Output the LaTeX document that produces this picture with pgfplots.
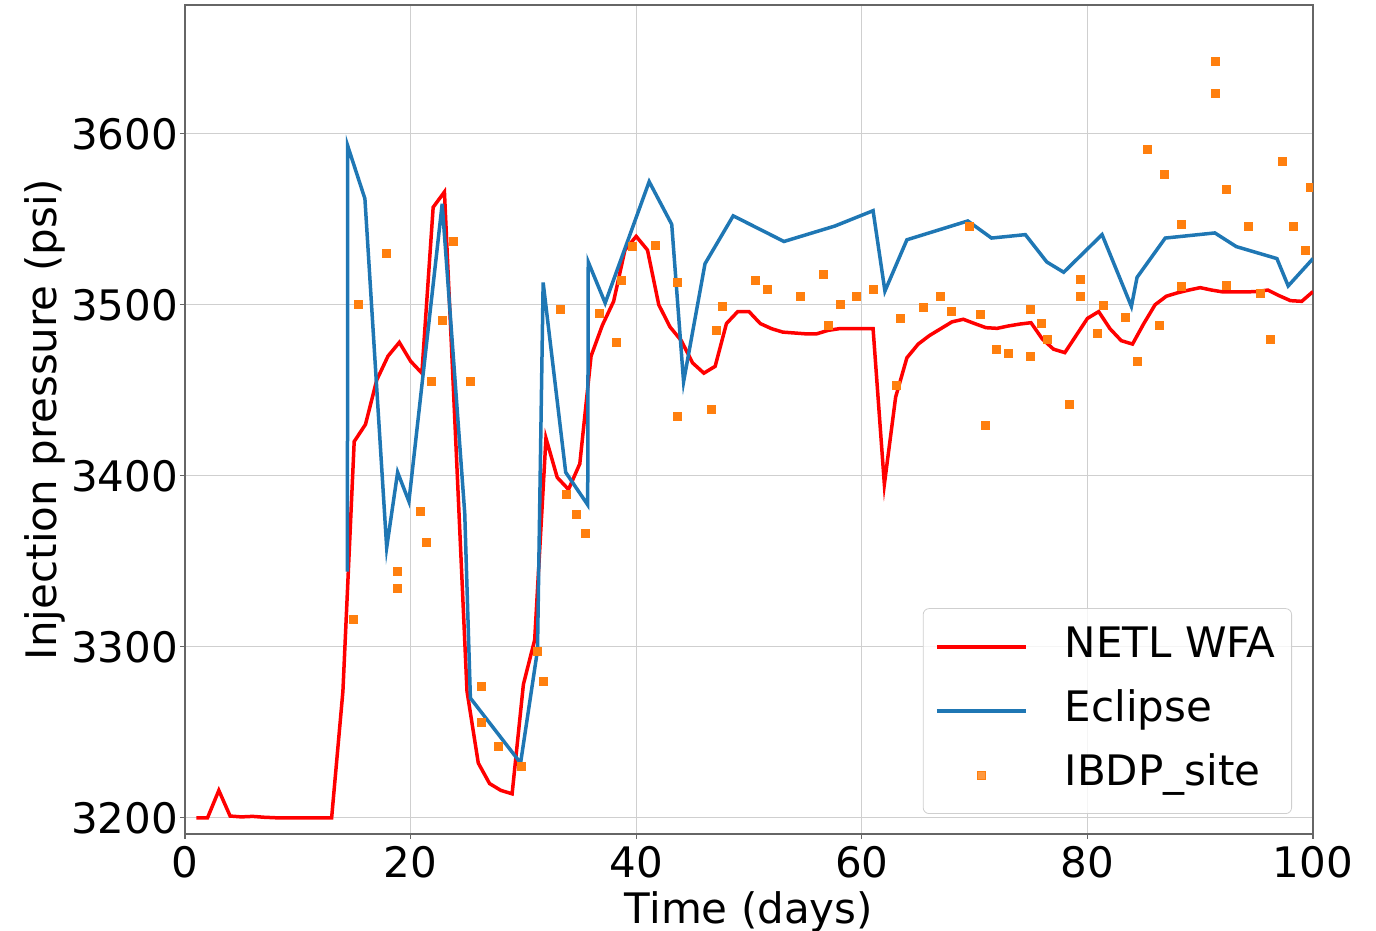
\documentclass[border=0pt]{standalone}
\usepackage{fontspec}
\setmainfont{DejaVu Sans}
\usepackage{pgfplots}
\pgfplotsset{compat=1.18}
\definecolor{netl}{rgb}{1,0,0}
\definecolor{ecl}{HTML}{1F77B4}
\definecolor{ibdp}{HTML}{FF7F0E}
\definecolor{spine}{gray}{0.4}
\definecolor{gridc}{HTML}{CFCFCF}
\newcommand{\bigf}{\fontsize{21}{25}\selectfont}
\pgfplotsset{
  linelegend/.style={legend image code/.code={\draw[##1] (0pt,0pt) -- (44.5pt,0pt); \path (61pt,0pt);}},
  marklegend/.style={legend image code/.code={\draw[##1] plot coordinates {(22.25pt,0pt)}; \path (0pt,0pt) (61pt,0pt);}},
}
\begin{document}
\begin{tikzpicture}
\begin{axis}[
  scale only axis, width=564pt, height=414.5pt,
  xmin=0, xmax=100, ymin=3190.5, ymax=3675.3,
  xtick={0,20,...,100}, ytick={3200,3300,...,3600},
  grid=major, major grid style={gridc, line width=0.6pt},
  axis line style={spine, line width=0.6pt},
  tick style={spine, line width=0.6pt},
  tick align=outside, major tick length=2.5pt, tick pos=left,
  /pgf/number format/assume math mode=true,
  /pgf/number format/1000 sep={},
  ticklabel style={font=\bigf},
  yticklabel style={xshift=2.5pt},
  label style={font=\bigf},
  ylabel shift=-4pt,
  xlabel={Time (days)}, ylabel={Injection pressure (psi)},
  clip marker paths=true,
  legend cell align=left,
  legend style={at={(1,0)}, anchor=south east, xshift=-10.5pt, yshift=10pt,
    draw=gridc, rounded corners=3pt, fill=white, fill opacity=0.8, text opacity=1,
    font=\bigf, inner xsep=6pt, inner ysep=7.5pt, row sep=8.5pt,
    nodes={text height=15pt, text depth=4.5pt, inner sep=2pt}},
]
\path (rel axis cs:0,0) coordinate (sw) (rel axis cs:1,1) coordinate (ne);

\addplot[netl, line width=1.75pt, linelegend] coordinates {
(1,3200)(2,3200)(3,3216)(4,3201)(5,3200.5)(6,3200.8)(7,3200.3)(8,3200)(9,3200)(10,3200)
(11,3200)(12,3200)(13,3200)(14,3274)(15,3420)(16,3430)(17,3456)(18,3470)(19,3478)(20,3467)
(21,3460)(22,3557)(23,3566)(24,3421)(25,3274)(26,3232)(27,3220)(28,3216)(29,3214)(30,3278)
(31,3304)(32,3422)(33,3399)(34,3392)(35,3407)(36,3470)(37,3488)(38,3502)(39,3532)(40,3540)
(41,3532)(42,3500)(43,3487)(44,3479)(45,3466)(46,3460)(47,3464)(48,3489)(49,3496)(50,3496)
(51,3489)(52,3486)(53,3484)(54,3483.5)(55,3483)(56,3483)(57,3485)(58,3486)(59,3486)(60,3486)
(61,3486)(62,3395)(63,3446)(64,3469)(65,3477)(66,3482)(67,3486)(68,3490)(69,3491.5)(70,3489)
(71,3486.6)(72,3486.2)(73,3487.6)(74,3488.7)(75,3489.5)(76,3480)(77,3474)(78,3472)(79,3482)(80,3492)
(81,3496)(82,3486)(83,3479)(84,3477)(85,3489)(86,3500)(87,3505)(88,3507)(89,3508.6)(90,3510)
(91,3508.6)(92,3507.5)(93,3507.5)(94,3507.5)(95,3507.7)(96,3508.6)(97,3505.3)(98,3502.4)(99,3502)(100,3507.7)
};
\addlegendentry{NETL WFA}

\addplot[ecl, line width=1.75pt, linelegend] coordinates {
(14.4,3344)(14.42,3593)(15.95,3562)(17.88,3358)(18.85,3402)(19.85,3385)(22.8,3559)(24.8,3378)
(25.3,3270)(29.75,3232)(31.25,3298)(31.75,3513)(33.75,3402)(35.7,3383)(35.75,3525)(37.25,3501)
(41.15,3572)(43.15,3547)(44.2,3455)(46.1,3524)(48.6,3552)(53.1,3537)(57.6,3546)(61.0,3555)
(62.05,3508)(64.0,3538)(69.4,3549)(71.5,3539)(74.5,3541)(76.4,3525)(77.9,3519)(81.3,3541)
(83.9,3499)(84.4,3516)(86.9,3539)(91.3,3542)(93.2,3534)(96.8,3527)(97.8,3511)(100,3527)
};
\addlegendentry{Eclipse}

\addplot[only marks, mark=square*, mark size=2pt, draw=ibdp, fill=ibdp, marklegend]
  coordinates {
(14.92,3316)(15.37,3500)(17.88,3530)(18.85,3344)(18.85,3334)(20.86,3379)(21.37,3361)(21.8,3455)
(22.84,3491)(23.79,3537)(25.27,3455)(26.3,3277)(26.3,3256)(27.78,3242)(29.79,3230)(31.27,3297)
(31.77,3280)(33.24,3497.5)(33.78,3389)(34.72,3377.5)(35.46,3366.5)(36.7,3495)(38.27,3478)(38.71,3514)
(39.69,3534)(41.72,3535)(43.68,3513)(43.68,3435)(46.63,3439)(47.13,3485)(47.64,3499)(50.6,3514)
(51.63,3509)(54.6,3505)(56.6,3518)(57.0,3488)(58.07,3500.4)(59.5,3505)(61.0,3509)(63.03,3453)
(63.45,3492)(65.5,3498.5)(67.0,3504.7)(67.97,3496.3)(69.5,3545.7)(70.48,3494.6)(70.98,3429.6)(71.96,3474)
(72.99,3471.6)(74.97,3497.5)(74.97,3469.6)(75.95,3489)(76.45,3480)(78.4,3442)(79.4,3515)(79.4,3504.7)
(80.88,3483)(81.4,3499.5)(83.4,3492.4)(84.43,3466.7)(85.35,3591)(86.38,3488)(86.8,3576.4)(88.3,3546.7)
(88.3,3511)(91.37,3642.3)(91.37,3623.8)(92.3,3567.2)(92.3,3511.6)(94.26,3545.7)(95.3,3506.7)(96.25,3479.8)
(97.28,3583.8)(98.26,3545.7)(99.3,3531.5)(99.73,3568.8)(100.03,3539.5)
};
\addlegendentry{IBDP\_site}
\end{axis}
\pgfresetboundingbox
\path[use as bounding box] ([xshift=-92.5pt,yshift=-48.5pt]sw) rectangle ([xshift=31.5pt,yshift=2.5pt]ne);
\end{tikzpicture}
\end{document}
